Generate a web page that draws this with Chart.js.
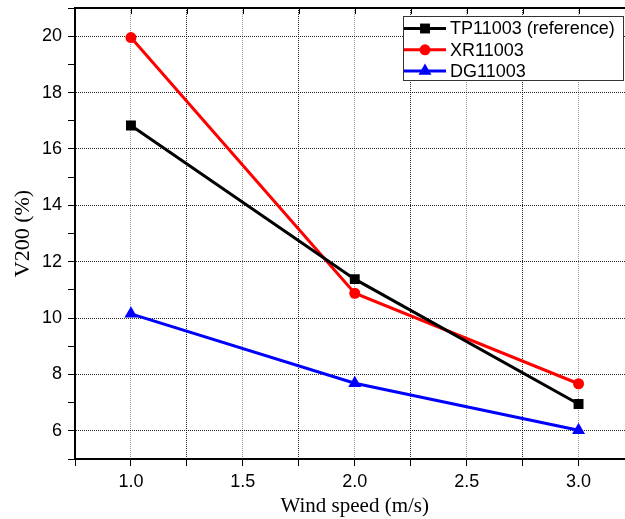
<!DOCTYPE html>
<html>
<head>
<meta charset="utf-8">
<script src="https://cdn.jsdelivr.net/npm/chart.js@4/dist/chart.umd.min.js"></script>
<style>
  html, body { margin: 0; padding: 0; background: #fff; overflow: hidden; }
  #wrap { width: 625px; height: 519px; overflow: hidden; }
</style>
</head>
<body>
<div id="wrap"><canvas id="grafica1" width="642" height="519"></canvas></div>
<script>
// values
const windSpeed = [1.0, 2.0, 3.0];
const tp11003 = [16.83, 11.38, 6.95];
const xr11003 = [19.95, 10.88, 7.67];
const dg11003 = [10.15, 7.69, 6.02];
const seriesNames = ["TP11003 (reference)", "XR11003", "DG11003"];
const xTickValues = [0.75, 1.0, 1.25, 1.5, 1.75, 2.0, 2.25, 2.5, 2.75, 3.0];
const yTickValues = [5, 6, 7, 8, 9, 10, 11, 12, 13, 14, 15, 16, 17, 18, 19, 20, 21];

function pts(ys) {
  return windSpeed.map((x, i) => ({ x: x, y: ys[i] }));
}

// legend box + top frame drawn on the canvas
const frameAndLegend = {
  id: "frameAndLegend",
  afterDraw(chart) {
    const ctx = chart.ctx;
    const area = chart.chartArea;
    const xs = chart.scales.x;
    ctx.save();
    // top frame line with inward ticks
    ctx.strokeStyle = "#000";
    ctx.lineWidth = 2;
    ctx.beginPath();
    ctx.moveTo(area.left, area.top);
    ctx.lineTo(area.right, area.top);
    ctx.stroke();
    ctx.lineWidth = 1;
    xTickValues.forEach((v) => {
      const px = Math.round(xs.getPixelForValue(v)) + 0.5;
      ctx.beginPath();
      ctx.moveTo(px, area.top);
      ctx.lineTo(px, area.top + 6);
      ctx.stroke();
    });

    // legend
    const bx = 403, by = 16.5, bw = 220, bh = 64;
    ctx.fillStyle = "#fff";
    ctx.fillRect(bx, by, bw, bh);
    ctx.strokeStyle = "#333";
    ctx.lineWidth = 1;
    ctx.strokeRect(bx + 0.5, by, bw, bh);
    ctx.font = "18px 'Liberation Sans', Arial, sans-serif";
    ctx.textBaseline = "middle";
    ctx.textAlign = "left";
    chart.data.datasets.forEach((ds, i) => {
      const cy = 28.5 + i * 21.3;
      ctx.strokeStyle = ds.borderColor;
      ctx.lineWidth = 3;
      ctx.beginPath();
      ctx.moveTo(404, cy);
      ctx.lineTo(446, cy);
      ctx.stroke();
      ctx.fillStyle = ds.borderColor;
      Chart.helpers.drawPoint(ctx, {
        pointStyle: ds.pointStyle,
        radius: ds.pointRadius,
        borderWidth: 0,
        rotation: 0
      }, 425, cy);
      ctx.fillStyle = "#000";
      ctx.fillText(ds.label, 450, cy + 1);
    });
    ctx.restore();
  }
};

const ctx = document.getElementById("grafica1");

new Chart(ctx, {
  type: "line",
  data: {
    datasets: [
      {
        label: seriesNames[0],
        data: pts(tp11003),
        borderColor: "#000000",
        backgroundColor: "#000000",
        borderWidth: 3,
        pointStyle: "rect",
        pointRadius: 7,
        pointBorderWidth: 0
      },
      {
        label: seriesNames[1],
        data: pts(xr11003),
        borderColor: "#ff0000",
        backgroundColor: "#ff0000",
        borderWidth: 3,
        pointStyle: "circle",
        pointRadius: 5.5,
        pointBorderWidth: 0
      },
      {
        label: seriesNames[2],
        data: pts(dg11003),
        borderColor: "#0000ff",
        backgroundColor: "#0000ff",
        borderWidth: 3,
        pointStyle: "triangle",
        pointRadius: 7.5,
        pointBorderWidth: 0
      }
    ]
  },
  options: {
    responsive: false,
    animation: false,
    layout: { padding: { top: 8, right: 0, left: 0, bottom: 0 } },
    plugins: {
      legend: { display: false },
      tooltip: { enabled: false }
    },
    scales: {
      x: {
        type: "linear",
        min: 0.75,
        max: 3.25,
        afterBuildTicks: (scale) => {
          scale.ticks = xTickValues.map((v) => ({ value: v }));
        },
        afterFit: (scale) => { scale.height = 60; },
        ticks: {
          autoSkip: false,
          maxRotation: 0,
          padding: 5,
          color: "#000",
          font: { family: "'Liberation Sans', Arial, sans-serif", size: 18 },
          callback: (v) => (Math.abs(v * 2 - Math.round(v * 2)) < 1e-6 ? v.toFixed(1) : "")
        },
        grid: {
          color: (c) => {
            const v = c.tick ? c.tick.value : 0;
            if (v <= 0.75 || v >= 3.25) return "rgba(0,0,0,0)";
            return Math.abs(v * 2 - Math.round(v * 2)) < 1e-6 ? "rgba(0,0,0,0.4)" : "rgba(0,0,0,0.85)";
          },
          lineWidth: 1,
          tickLength: 7,
          tickColor: "#000",
          tickWidth: 1
        },
        border: { display: true, color: "#000", width: 2, dash: [1, 1] },
        title: {
          display: true,
          text: "Wind speed (m/s)",
          color: "#000",
          font: { family: "'Liberation Serif', 'Times New Roman', serif", size: 21 },
          padding: { top: 0, bottom: 0 }
        }
      },
      y: {
        min: 5,
        max: 21,
        afterBuildTicks: (scale) => {
          scale.ticks = yTickValues.map((v) => ({ value: v }));
        },
        afterFit: (scale) => { scale.width = 75; },
        ticks: {
          autoSkip: false,
          padding: 6,
          color: "#000",
          font: { family: "'Liberation Sans', Arial, sans-serif", size: 18, lineHeight: 0.1 },
          callback: (v) => (v % 2 === 0 ? String(v) : "")
        },
        grid: {
          color: (c) => {
            const v = c.tick ? c.tick.value : 1;
            return v % 2 === 0 ? "rgba(0,0,0,0.85)" : "rgba(0,0,0,0)";
          },
          lineWidth: 1,
          tickLength: 7,
          tickColor: "#000",
          tickWidth: 1
        },
        border: { display: true, color: "#000", width: 2, dash: [1, 1] },
        title: {
          display: true,
          text: "V200 (%)",
          color: "#000",
          font: { family: "'Liberation Serif', 'Times New Roman', serif", size: 22 },
          padding: { top: 10, bottom: 0 }
        }
      }
    }
  },
  plugins: [frameAndLegend]
});
</script>
</body>
</html>
